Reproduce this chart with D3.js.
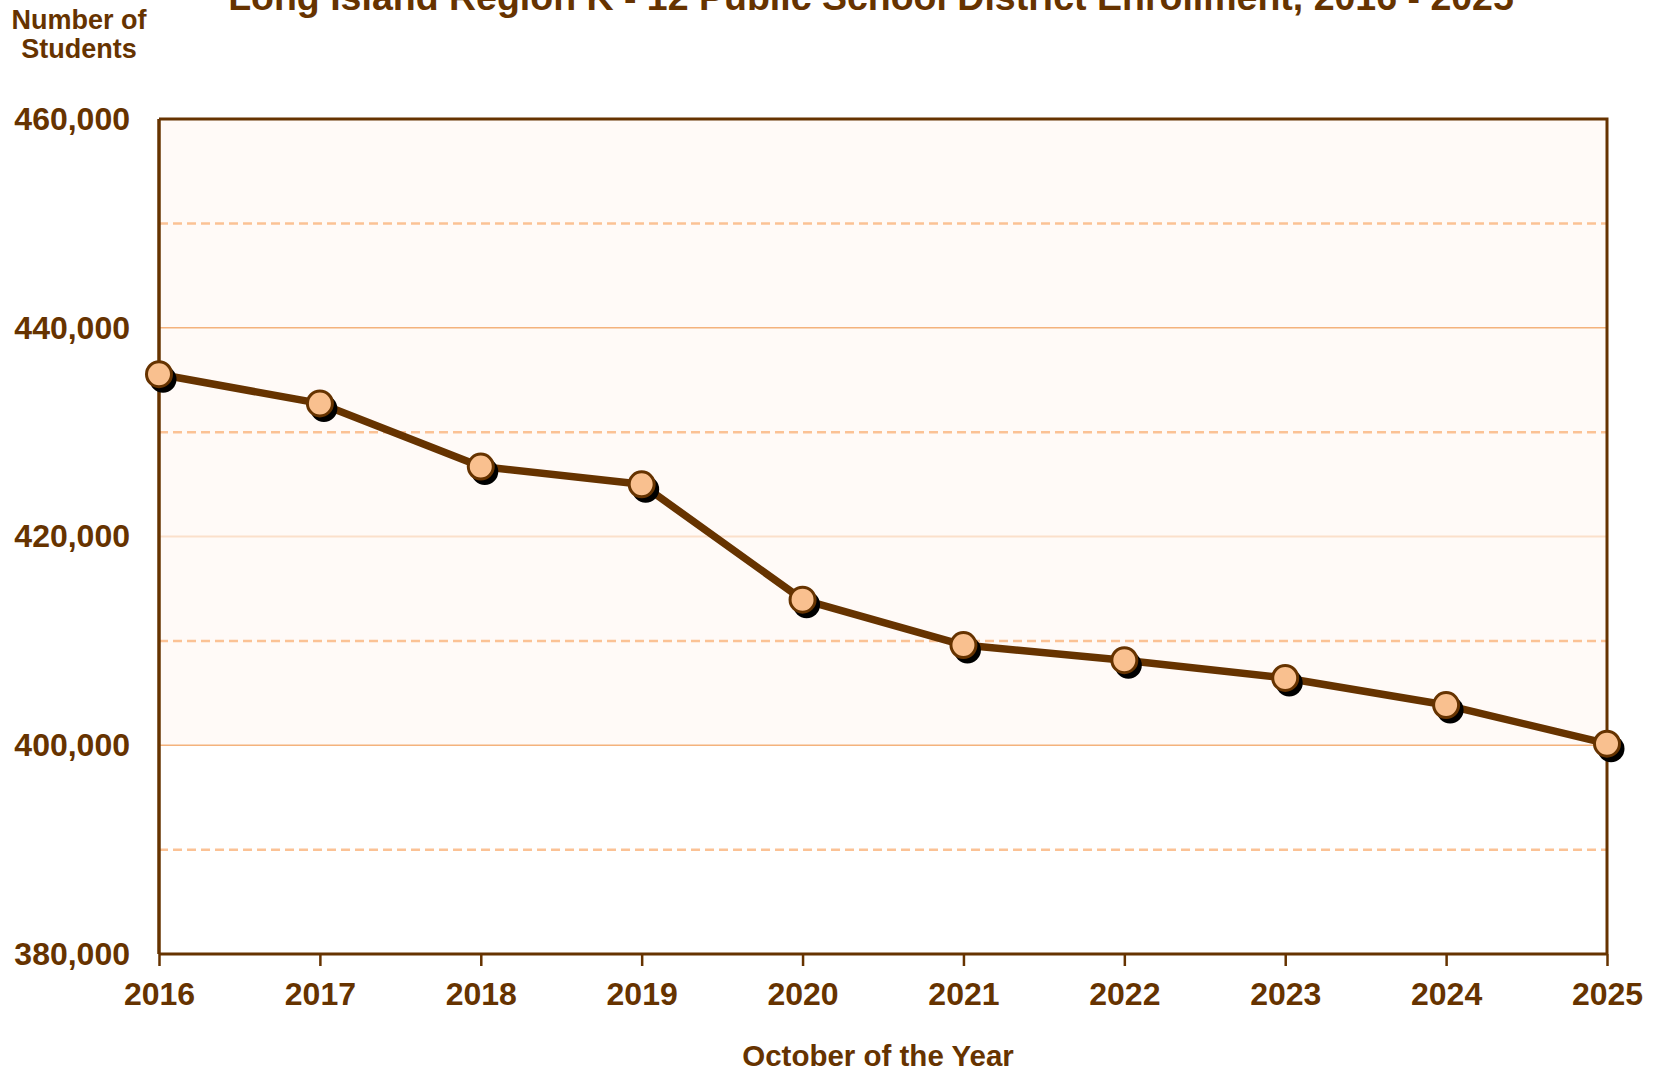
<!DOCTYPE html>
<html>
<head>
<meta charset="utf-8">
<script src="https://cdn.jsdelivr.net/npm/d3@7"></script>
<style>
  html, body { margin: 0; padding: 0; background: #fff; }
  svg { display: block; font-family: "Liberation Sans", Arial, sans-serif; font-weight: bold; }
</style>
</head>
<body>
<div id="chart"></div>
<script>
// data
const years = [2016, 2017, 2018, 2019, 2020, 2021, 2022, 2023, 2024, 2025];
const enrollment = [435550, 432750, 426700, 425000, 413950, 409600, 408150, 406450, 403850, 400150];
const yTicks = [380000, 400000, 420000, 440000, 460000];
const solidGrid = [400000, 440000];
const lightGrid = [420000];
const dashedGrid = [390000, 410000, 430000, 450000];
const shadedTop = 460000, shadedBottom = 400000;

const brown = '#663300';
const W = 1654, H = 1074;
const margin = { top: 119, right: 47, bottom: 120, left: 159 };
const width = W - margin.left - margin.right,
      height = H - margin.top - margin.bottom;

const svg = d3.select('#chart').append('svg')
  .attr('width', W)
  .attr('height', H);

const g = svg.append('g')
  .attr('transform', `translate(${margin.left},${margin.top})`);

const x = d3.scaleLinear().domain([years[0], years[years.length - 1]]).range([0, width]);
const y = d3.scaleLinear().domain([380000, 460000]).range([height, 0]);

// tinted band of the plot area
g.append('rect')
  .attr('x', 0)
  .attr('y', y(shadedTop))
  .attr('width', width)
  .attr('height', y(shadedBottom) - y(shadedTop))
  .attr('fill', '#fffaf7');

// grid lines
g.selectAll('line.dash').data(dashedGrid).enter().append('line')
  .attr('class', 'dash')
  .attr('x1', 0).attr('x2', width)
  .attr('y1', d => y(d)).attr('y2', d => y(d))
  .attr('stroke', '#fbc295')
  .attr('stroke-width', 2.5)
  .attr('stroke-dasharray', '9,5');

g.selectAll('line.light').data(lightGrid).enter().append('line')
  .attr('class', 'light')
  .attr('x1', 0).attr('x2', width)
  .attr('y1', d => y(d)).attr('y2', d => y(d))
  .attr('stroke', '#fbe0cb')
  .attr('stroke-width', 2);

g.selectAll('line.solid').data(solidGrid).enter().append('line')
  .attr('class', 'solid')
  .attr('x1', 0).attr('x2', width)
  .attr('y1', d => y(d)).attr('y2', d => y(d))
  .attr('stroke', '#f4b27c')
  .attr('stroke-width', 1.5);

// frame (top + right)
g.append('path')
  .attr('d', `M0,0H${width}V${height}`)
  .attr('fill', 'none')
  .attr('stroke', brown)
  .attr('stroke-width', 3);

// axes
const xAxis = g.append('g')
  .attr('transform', `translate(0,${height})`)
  .call(d3.axisBottom(x).tickValues(years).tickFormat(d3.format('d')).tickSize(12).tickPadding(16));
xAxis.select('.domain').attr('stroke', brown).attr('stroke-width', 3).attr('d', `M0,0H${width}`);
xAxis.selectAll('.tick line').attr('stroke', brown).attr('stroke-width', 2.5);
xAxis.selectAll('.tick text')
  .attr('fill', brown)
  .style('font-size', '32px')
  .style('font-family', '"Liberation Sans", Arial, sans-serif')
  .style('font-weight', 'bold');

const yAxis = g.append('g')
  .call(d3.axisLeft(y).tickValues(yTicks).tickFormat(d3.format(',')).tickSize(0).tickPadding(29));
yAxis.select('.domain').attr('stroke', brown).attr('stroke-width', 3.5).attr('d', `M0,${height}V0`);
yAxis.selectAll('.tick text')
  .attr('fill', brown)
  .style('font-size', '32px')
  .style('font-family', '"Liberation Sans", Arial, sans-serif')
  .style('font-weight', 'bold');

// series
const pts = years.map((yr, i) => ({ year: yr, value: enrollment[i] }));

g.append('path')
  .datum(pts)
  .attr('fill', 'none')
  .attr('stroke', brown)
  .attr('stroke-width', 7.5)
  .attr('stroke-linejoin', 'round')
  .attr('d', d3.line().x(d => x(d.year)).y(d => y(d.value)));

g.selectAll('circle.shadow').data(pts).enter().append('circle')
  .attr('class', 'shadow')
  .attr('cx', d => x(d.year) + 4)
  .attr('cy', d => y(d.value) + 5)
  .attr('r', 13.5)
  .attr('fill', '#000');

g.selectAll('circle.dot').data(pts).enter().append('circle')
  .attr('class', 'dot')
  .attr('cx', d => x(d.year))
  .attr('cy', d => y(d.value))
  .attr('r', 12.5)
  .attr('fill', '#f9c08f')
  .attr('stroke', brown)
  .attr('stroke-width', 3);

// titles
svg.append('text')
  .attr('x', 871).attr('y', 10)
  .attr('text-anchor', 'middle')
  .attr('fill', brown)
  .style('font-size', '37.5px')
  .text('Long Island Region K - 12 Public School District Enrollment, 2016 - 2025');

const yTitle = svg.append('text')
  .attr('text-anchor', 'middle')
  .attr('fill', brown)
  .style('font-size', '27px');
yTitle.append('tspan').attr('x', 79).attr('y', 29).text('Number of');
yTitle.append('tspan').attr('x', 79).attr('y', 58).text('Students');

svg.append('text')
  .attr('x', 878).attr('y', 1066)
  .attr('text-anchor', 'middle')
  .attr('fill', brown)
  .style('font-size', '29.5px')
  .text('October of the Year');
</script>
</body>
</html>
